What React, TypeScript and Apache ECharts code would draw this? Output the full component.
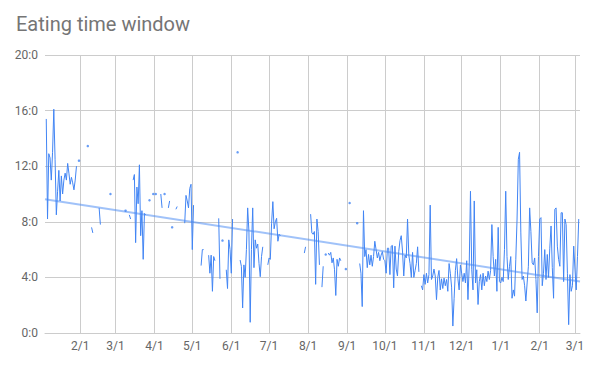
import React, { useEffect, useRef } from "react";
import * as echarts from "echarts";

// Daily eating window (hours). Series starts 2018-01-04; null = no record.
const startYear = 2018;
const startMonth = 0; // January
const startDay = 4;

const jan2018 = [null, 15.4, 8.2, 12.9, 12.6, 11.0, 13.0, 16.1, 12.5, 8.5, 10.2, 11.7, 9.5, 11.3, 10.0, 11.0, 11.5, 11.0, 12.2, 11.5, 10.7, 11.2, 10.8, 10.3, 11.0, 12.0, null, 12.4];
const feb2018 = [null, null, null, null, null, null, 13.45, null, null, 7.6, 7.2, null, null, null, null, 9.0, 7.8, null, null, null, null, null, null, null, 10.0, null, null, null];
const mar2018 = [null, null, null, null, null, null, null, null, 8.8, null, null, 8.5, 8.2, null, 11.0, 11.4, 6.5, 10.5, 9.3, 12.1, 7.0, 8.8, 5.3, 8.6, 8.5, null, null, 9.55, null, null, 10.0];
const apr2018 = [null, 10.0, null, null, null, 10.0, 9.0, null, 10.0, null, null, 9.0, 9.5, null, 7.6, null, null, 8.9, 9.1, null, null, null, null, null, 7.9, 9.9, 9.5, 9.0, 10.4, 10.7];
const may2018 = [6.0, 9.2, null, null, null, null, null, 4.85, 6.0, 6.0, null, null, null, 5.6, 4.3, 5.6, 3.0, 5.5, 5.2, null, null, 8.25, 3.9, null, 6.65, null, null, 4.55, 3.2, 6.7, 6.0];
const jun2018 = [4.3, 8.2, null, null, null, 13.0, null, 5.25, 4.8, 1.8, 4.9, 4.0, 6.0, 9.0, 7.3, 0.77, 6.0, 9.0, 4.7, 6.7, 6.1, 6.4, 5.0, 4.05, 5.5, 6.2, null, null, null, 4.9];
const jul2018 = [5.4, 5.3, 7.9, 9.45, 7.5, 8.0, 8.25, 6.6, 7.1, 7.0, null, null, null, null, null, null, null, null, null, null, null, null, null, null, null, null, null, null, 5.75, 6.2, null];
const aug2018 = [null, null, 8.55, 7.2, 7.1, 7.3, 3.5, 8.2, 7.3, 4.9, null, 3.3, 4.8, null, 5.65, null, 5.75, 5.6, 5.8, 5.05, 5.4, 4.55, 2.7, 5.3, 4.8, 5.4, 5.2, null, null, null, 4.6];
const sep2018 = [null, null, 9.35, null, null, null, null, null, 7.9, null, 5.0, 4.3, 1.9, 8.8, 5.5, 6.0, 4.7, 5.65, 4.9, 5.6, 4.8, 5.5, 6.6, 6.0, 5.4, 5.8, 5.2, 5.6, 5.85, 5.3];
const oct2018 = [5.2, 4.3, 6.1, 6.1, 4.2, 6.25, 6.3, 3.25, 6.25, 4.6, 4.1, 5.85, 6.65, 7.0, 5.9, 4.1, 5.6, 5.4, 8.2, 5.6, 5.0, 4.0, 5.8, 4.0, 4.5, 5.0, 6.2, 4.4, null, 3.4, 3.1];
const nov2018 = [4.2, 3.5, 4.3, 3.6, 4.2, 9.2, 3.85, 4.1, 4.6, 4.1, 2.4, 4.0, 4.5, 3.1, 3.9, 3.2, 3.95, 3.4, 3.85, 3.0, 5.0, 4.3, 3.3, 0.5, 2.5, 4.5, 5.35, 3.9, 3.1, 4.9];
const dec2018 = [4.3, 3.7, 4.3, 3.6, 5.2, 2.4, 4.9, 10.2, 4.55, 3.1, 9.5, 3.6, 4.55, 2.05, 3.7, 4.2, 3.1, 4.3, 3.4, 4.1, 3.7, 4.45, 3.85, 4.5, 7.8, 5.5, 4.1, 5.3, 3.0, 7.6, 3.7];
const jan2019 = [3.6, 4.0, 3.7, 6.0, 10.2, 5.5, 3.85, 4.8, 5.5, 2.5, 3.1, 2.65, 5.3, 8.2, 12.5, 13.0, 7.2, 3.85, 4.1, 3.4, 2.3, 3.6, 4.8, 9.0, 7.3, 5.05, 4.9, 5.4, 3.85, 1.45, 5.5];
const feb2019 = [8.2, 8.3, 3.4, 4.3, 6.0, 3.85, 5.65, 4.0, 6.1, 7.7, 4.7, 2.5, 8.9, 9.0, 6.25, 5.3, 4.8, 8.65, 8.65, 3.7, 8.2, 7.8, 4.3, 0.6, 4.2, 3.0, 3.4, 6.25];
const mar2019 = [4.6, 3.1, 5.5, 8.2, null];

const months: (number | null)[][] = [
  jan2018, feb2018, mar2018, apr2018, may2018, jun2018, jul2018,
  aug2018, sep2018, oct2018, nov2018, dec2018, jan2019, feb2019, mar2019,
];

const yTicks = [0, 4, 8, 12, 16, 20];
const titleText = "Eating time window";

export default function App() {
  const ref = useRef<HTMLDivElement>(null);

  useEffect(() => {
    if (!ref.current) return;
    const chart = echarts.init(ref.current, null, { renderer: "svg" });

    const hours = months.flat();
    const start = Date.UTC(startYear, startMonth, startDay);
    const dates = hours.map((_, i) => new Date(start + i * 86400000));
    const cats = dates.map(
      (d) =>
        `${d.getUTCFullYear()}-${String(d.getUTCMonth() + 1).padStart(2, "0")}-${String(d.getUTCDate()).padStart(2, "0")}`
    );
    const isMonthStart = (i: number) => dates[i] && dates[i].getUTCDate() === 1;

    // linear trendline (least squares over recorded days)
    let sx = 0, sy = 0, sxx = 0, sxy = 0, cnt = 0;
    hours.forEach((v, i) => {
      if (v == null) return;
      sx += i; sy += v; sxx += i * i; sxy += i * v; cnt++;
    });
    const slope = (cnt * sxy - sx * sy) / (cnt * sxx - sx * sx);
    const intercept = (sy - slope * sx) / cnt;
    const trend = hours.map((_, i) =>
      i === 0 || i === hours.length - 1 ? +(intercept + slope * i).toFixed(3) : null
    );

    // isolated single-day records drawn as dots
    const dots: [number, number][] = [];
    hours.forEach((v, i) => {
      if (v == null) return;
      const prev = i > 0 ? hours[i - 1] : null;
      const next = i < hours.length - 1 ? hours[i + 1] : null;
      if (prev == null && next == null) dots.push([i, v]);
    });

    const blue = "#4285f4";
    const font = "Roboto, Arial, sans-serif";

    chart.setOption({
      animation: false,
      title: {
        text: titleText,
        left: 16,
        top: 14,
        padding: 0,
        textStyle: { fontFamily: font, fontSize: 20, fontWeight: "normal", color: "#757575" },
      },
      grid: { left: 45, right: 15, top: 55, bottom: 35, containLabel: false },
      xAxis: {
        type: "category",
        data: cats,
        boundaryGap: false,
        axisLine: { show: true, lineStyle: { color: "#cccccc", width: 1 } },
        axisTick: { show: false, interval: (i: number) => isMonthStart(i) },
        axisLabel: {
          interval: (i: number) => isMonthStart(i),
          formatter: (v: string) => {
            const p = v.split("-");
            return `${+p[1]}/${+p[2]}`;
          },
          color: "#666666",
          fontFamily: font,
          fontSize: 12,
          margin: 7,
        },
        splitLine: {
          show: true,
          interval: (i: number) => isMonthStart(i),
          lineStyle: { color: "#cccccc", width: 1 },
        },
      },
      yAxis: {
        type: "value",
        min: yTicks[0],
        max: yTicks[yTicks.length - 1],
        interval: 4,
        axisLine: { show: false },
        axisTick: { show: false },
        axisLabel: {
          formatter: (v: number) => `${v}:0`,
          color: "#666666",
          fontFamily: font,
          fontSize: 12,
          margin: 7,
        },
        splitLine: { show: true, lineStyle: { color: "#cccccc", width: 1 } },
      },
      series: [
        {
          name: "Trend",
          type: "line",
          data: trend,
          connectNulls: true,
          symbol: "none",
          lineStyle: { color: blue, width: 2, opacity: 0.5 },
          z: 1,
        },
        {
          name: "Eating window",
          type: "line",
          data: hours,
          connectNulls: false,
          symbol: "none",
          lineStyle: { color: blue, width: 1 },
          z: 2,
        },
        {
          name: "Single days",
          type: "scatter",
          data: dots,
          symbol: "circle",
          symbolSize: 2.5,
          itemStyle: { color: blue },
          z: 3,
        },
      ],
    });

    return () => chart.dispose();
  }, []);

  return (
    <div
      ref={ref}
      style={{ position: "absolute", left: 0, top: 0, width: 595, height: 368 }}
    />
  );
}
